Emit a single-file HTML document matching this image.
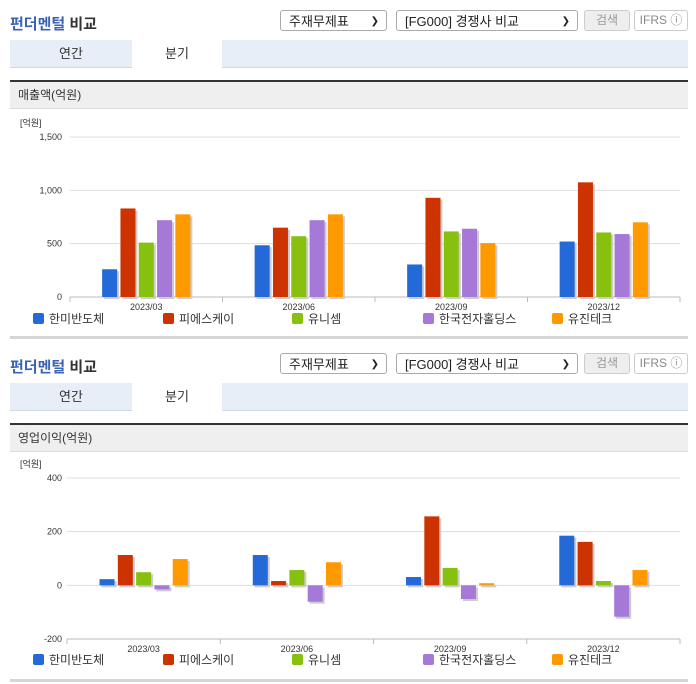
<!DOCTYPE html>
<html><head><meta charset="utf-8">
<style>
body{margin:0;width:696px;height:684px;overflow:hidden;background:#fff;font-family:"Liberation Sans","Noto Sans CJK KR",sans-serif;position:relative}
.abs{position:absolute}
.title{font-size:15px;font-weight:bold;color:#333;left:10px}
.title span{color:#3a63b8}
.sel{border:1px solid #aaa;border-radius:3px;height:21px;font-size:13px;color:#222;line-height:21px;padding-left:8px;box-sizing:border-box;background:#fff}
.sel i{position:absolute;right:7px;top:0;font-style:normal;font-size:10px}
.btn{border:1px solid #ccc;border-radius:3px;height:21px;font-size:12px;line-height:19px;text-align:center;box-sizing:border-box;color:#999}
.tabs{left:10px;width:678px;height:28px;background:#e8eef8;border-bottom:1px solid #d0d8e4;box-sizing:border-box}
.tab{position:absolute;top:0;height:28px;line-height:28px;font-size:13px;text-align:center;color:#333}
.hdr{left:10px;width:678px;height:29px;background:#efefef;border-top:2px solid #333;border-bottom:1px solid #ddd;box-sizing:border-box;font-size:12px;line-height:27px;padding-left:8px;color:#333}
.foot{left:10px;width:678px;height:3px;background:#d6d6d6}
svg{position:absolute;left:0;top:0}
</style></head><body>
<div class="abs title" style="top:13px"><span>펀더멘털</span> 비교</div>
<div class="abs sel" style="left:280px;top:10px;width:107px">주재무제표<i>&#10095;</i></div>
<div class="abs sel" style="left:396px;top:10px;width:182px">[FG000] 경쟁사 비교<i>&#10095;</i></div>
<div class="abs btn" style="left:584px;top:10px;width:46px;background:#eee">검색</div>
<div class="abs btn" style="left:634px;top:10px;width:54px;color:#888">IFRS ⓘ</div>
<div class="abs tabs" style="top:40px">
<div class="tab" style="left:0;width:122px">연간</div>
<div class="tab" style="left:122px;width:90px;background:#fff;height:29px">분기</div></div>
<div class="abs hdr" style="top:80px">매출액(억원)</div>
<div class="abs foot" style="top:336px"></div>

<div class="abs title" style="top:356px"><span>펀더멘털</span> 비교</div>
<div class="abs sel" style="left:280px;top:353px;width:107px">주재무제표<i>&#10095;</i></div>
<div class="abs sel" style="left:396px;top:353px;width:182px">[FG000] 경쟁사 비교<i>&#10095;</i></div>
<div class="abs btn" style="left:584px;top:353px;width:46px;background:#eee">검색</div>
<div class="abs btn" style="left:634px;top:353px;width:54px;color:#888">IFRS ⓘ</div>
<div class="abs tabs" style="top:383px">
<div class="tab" style="left:0;width:122px">연간</div>
<div class="tab" style="left:122px;width:90px;background:#fff;height:29px">분기</div></div>
<div class="abs hdr" style="top:423px">영업이익(억원)</div>
<div class="abs foot" style="top:679px"></div>

<svg id="chart" width="696" height="684"></svg>
<script>
const categories = ["2023/03","2023/06","2023/09","2023/12"];
const seriesNames = ["한미반도체","피에스케이","유니셈","한국전자홀딩스","유진테크"];
const seriesColors = ["#2469d8","#cc3300","#88c010","#a678d8","#ff9900"];
const revHanmi = [260,485,305,520];
const revPsk = [830,650,930,1075];
const revUnisem = [510,570,615,605];
const revHkh = [720,720,640,590];
const revEugene = [775,775,505,700];
const revTicks = [0,500,1000,1500];
const revTickLabels = ["0","500","1,000","1,500"];
const opHanmi = [23,113,31,185];
const opPsk = [113,16,257,162];
const opUnisem = [49,57,65,16];
const opHkh = [-15,-61,-51,-117];
const opEugene = [98,86,8,57];
const opTicks = [-200,0,200,400];
const opTickLabels = ["-200","0","200","400"];

const NS="http://www.w3.org/2000/svg";
const svg=document.getElementById('chart');
function mk(tag,attrs,parent){const e=document.createElementNS(NS,tag);for(const k in attrs)e.setAttribute(k,attrs[k]);(parent||svg).appendChild(e);return e;}

function drawChart(prefix,series,ticks,tickLabels,yTopPx,yBotPx,legendY,x0){
  const g=mk('g',{});
  
  
  const vmin=ticks[0],vmax=ticks[ticks.length-1];
  const y=v=>yBotPx-(v-vmin)/(vmax-vmin)*(yBotPx-yTopPx);
  const x1=680,cw=(x1-x0)/categories.length;
  const xc=i=>x0+cw*(i+0.5);
  const ul=mk('text',{x:20,y:yTopPx-11,'font-size':9,fill:'#333'},g);ul.textContent='[억원]';
  
  
  ticks.forEach((t,i)=>{
    const ln=mk('line',{x1:x0,x2:x1,y1:y(t),y2:y(t),stroke:i===0?'#bbb':'#ddd','stroke-width':1},g);
    
    
    const tx=mk('text',{x:62,y:y(t)+3,'font-size':9,fill:'#333','text-anchor':'end'},g);tx.textContent=tickLabels[i];
    
    
  });
  for(let i=0;i<=categories.length;i++){
    mk('line',{x1:x0+cw*i,x2:x0+cw*i,y1:yBotPx,y2:yBotPx+5,stroke:'#bbb'},g);
  }
  categories.forEach((c,i)=>{
    const tx=mk('text',{x:xc(i),y:yBotPx+13,'font-size':9,fill:'#333','text-anchor':'middle'},g);tx.textContent=c;
    
    
  });
  const bw=15,step=18.3,n=series.length;
  series.forEach((vals,s)=>{
    vals.forEach((v,i)=>{
      const bx=xc(i)-(step*(n-1)+bw)/2+step*s;
      const top=Math.min(y(v),y(0)),h=Math.abs(y(v)-y(0));
      mk('rect',{x:bx+2,y:top+2,width:bw,height:h,fill:'#ccc'},g);
      const r=mk('rect',{x:bx,y:top,width:bw,height:h,fill:seriesColors[s]},g);
      
      
    });
  });
  const lx=[33,163,292,423,552];
  seriesNames.forEach((nm,s)=>{
    const sq=mk('rect',{x:lx[s],y:legendY-9,width:11,height:11,rx:2,fill:seriesColors[s]},g);
    
    
    const t=mk('text',{x:lx[s]+16,y:legendY+1,'font-size':12,fill:'#333'},g);t.textContent=nm;
    
    
  });
}
drawChart('revenue',[revHanmi,revPsk,revUnisem,revHkh,revEugene],revTicks,revTickLabels,137,297,322,70);
drawChart('op-income',[opHanmi,opPsk,opUnisem,opHkh,opEugene],opTicks,opTickLabels,478,639,663,67);
</script>
</body></html>
